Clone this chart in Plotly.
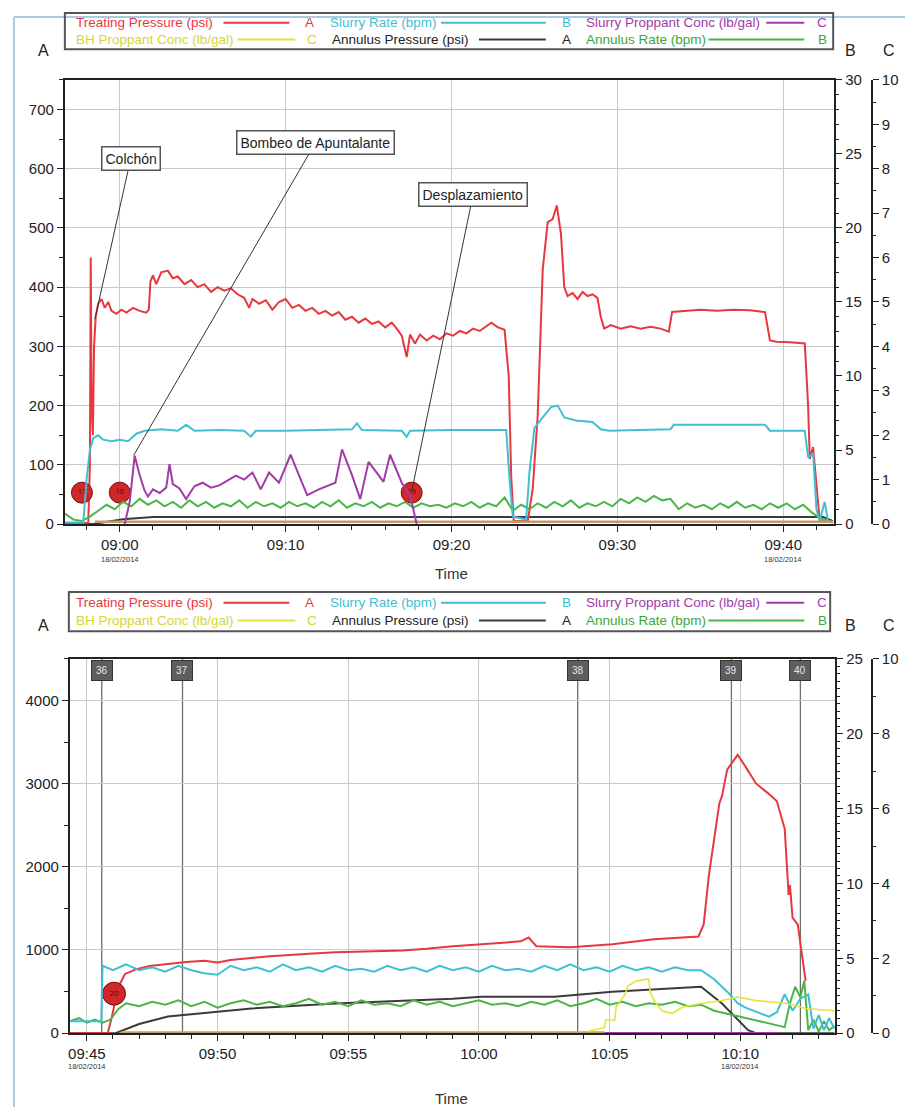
import numpy as np
import pandas as pd
import plotly.graph_objects as go

W, H = 905, 1115
def px(x): return x / W
def py(y): return 1 - y / H

T0_TOP = pd.Timestamp("2014-02-18 09:00:00")
T0_BOT = pd.Timestamp("2014-02-18 09:45:00")
def tt(base, mins):
    return [base + pd.Timedelta(minutes=float(m)) for m in mins]

# ---------------- TOP CHART DATA (minutes after 09:00) ----------------
top_red_t = [-3.3, -1.9, -1.8, -1.75, -1.7, -1.62, -1.55, -1.45, -1.3, -1.1, -0.9, -0.7, -0.5, -0.2, 0.1, 0.4, 0.8, 1.2,
             1.6, 1.75, 1.85, 2.0, 2.2, 2.5, 2.9, 3.2, 3.5, 3.9, 4.3, 4.7, 5.1, 5.5, 5.9, 6.3, 6.7, 7.1, 7.5, 7.8, 8.0,
             8.4, 8.8, 9.2, 9.6, 10.0, 10.4, 10.8, 11.2, 11.6, 12.0, 12.4, 12.8, 13.2, 13.6, 14.0, 14.4, 14.8, 15.2,
             15.6, 16.0, 16.4, 16.7, 17.0, 17.3, 17.5, 17.8, 18.1, 18.5, 18.9, 19.3, 19.7, 20.1, 20.5, 20.9, 21.3,
             21.7, 22.1, 22.4, 22.8, 23.2, 23.45, 23.6, 23.75, 24.6, 24.9, 25.2, 25.5, 25.8, 26.1, 26.35, 26.6, 26.8,
             27.0, 27.3, 27.6, 27.9, 28.2, 28.5, 28.8, 29.0, 29.2, 29.6, 30.2, 30.8, 31.4, 32.0, 32.6, 33.1, 33.3,
             34.0, 35.0, 36.0, 37.0, 38.0, 38.9, 39.2, 39.6, 40.4, 41.3, 41.5, 41.6, 41.8, 42.0, 42.2, 43.0]
top_red_v = [0, 2, 100, 450, 200, 150, 300, 350, 372, 380, 365, 375, 360, 355, 362, 357, 365, 360,
             357, 362, 410, 420, 405, 425, 428, 415, 418, 405, 412, 400, 405, 392, 400, 394, 398, 388, 382, 365, 380,
             372, 378, 362, 375, 380, 365, 370, 360, 365, 355, 360, 352, 358, 345, 350, 340, 347, 338,
             342, 332, 340, 330, 318, 282, 320, 305, 320, 310, 318, 312, 322, 318, 326, 322, 330,
             326, 334, 340, 332, 328, 250, 80, 5, 5, 60, 185, 430, 510, 515, 538, 490, 400,
             385, 390, 380, 392, 385, 388, 382, 350, 330, 336, 330, 334, 330, 333, 330, 325, 358,
             360, 362, 360, 362, 361, 358, 310, 308, 307, 305, 200, 110, 130, 60, 5, 3]

top_cyan_t = [-3.3, -2.2, -2.0, -1.8, -1.6, -1.3, -1.0, -0.5, 0, 0.5, 1.0, 1.5, 2.5, 3.5, 4.0, 4.5, 6, 7.5, 7.9, 8.2,
              10, 12, 14, 14.3, 14.6, 17, 17.3, 17.5, 20, 23.3, 23.5, 23.7, 24.5, 24.7, 25.0, 25.5, 26.0, 26.4, 26.8,
              27.5, 28.5, 29.0, 29.5, 33.2, 33.4, 38.9, 39.2, 41.3, 41.5, 41.8, 42.0, 42.2, 42.5, 42.7, 43.0]
top_cyan_v = [0.1, 0.1, 3.0, 5.0, 5.8, 6.0, 5.7, 5.6, 5.7, 5.6, 6.1, 6.3, 6.4, 6.3, 6.7, 6.3, 6.35, 6.3, 5.9, 6.3,
              6.3, 6.35, 6.4, 6.8, 6.35, 6.3, 5.9, 6.3, 6.35, 6.35, 3.0, 0.5, 0.3, 3.5, 6.5, 7.2, 7.9, 8.0, 7.2,
              7.0, 6.9, 6.4, 6.3, 6.4, 6.7, 6.7, 6.3, 6.3, 4.5, 4.8, 1.0, 0.2, 1.5, 0.2, 0.1]

top_purple_t = [0.3, 0.6, 0.9, 1.2, 1.5, 1.7, 2.0, 2.4, 2.8, 3.0, 3.2, 3.6, 4.0, 4.5, 5.0, 5.5, 6.0, 6.5, 7.0, 7.5,
                8.0, 8.5, 9.0, 9.6, 10.3, 10.8, 11.3, 12.0, 12.5, 13.0, 13.4, 14.0, 14.5, 15.0, 15.5, 15.9, 16.3,
                17.0, 17.5, 17.9]
top_purple_v = [0, 0.5, 1.54, 1.1, 0.75, 0.62, 0.78, 0.7, 0.82, 1.35, 0.9, 0.8, 0.56, 0.85, 0.93, 0.82, 0.87, 0.98,
                1.09, 1.0, 1.16, 0.78, 1.16, 0.93, 1.56, 1.1, 0.65, 0.78, 0.85, 0.93, 1.68, 1.1, 0.56, 1.4, 1.15,
                0.95, 1.56, 0.93, 0.65, 0.0]

top_green_start, top_green_step = -3.3, 0.5
top_green_v = [0.7, 0.3, 0.2, 0.5, 0.9, 1.3, 1.0, 1.5, 1.2, 1.7, 1.3, 1.6, 1.2, 1.5, 1.1, 1.6, 1.2, 1.5, 1.1, 1.4,
               1.2, 1.6, 1.1, 1.5, 1.2, 1.4, 1.1, 1.5, 1.2, 1.4, 1.1, 1.5, 1.2, 1.6, 1.1, 1.4, 1.2, 1.5, 1.1, 1.4,
               1.2, 1.5, 1.1, 1.4, 1.2, 1.3, 1.1, 1.4, 1.2, 1.5, 1.1, 1.4, 1.2, 1.8, 0.9, 1.3, 1.0, 1.4, 1.1, 1.5,
               1.2, 1.6, 1.1, 1.4, 1.2, 1.5, 1.2, 1.7, 1.4, 1.8, 1.5, 1.9, 1.6, 1.7, 1.0, 1.4, 1.1, 1.3, 1.0, 1.4,
               1.1, 1.5, 1.1, 1.3, 1.0, 1.4, 1.1, 1.4, 1.0, 1.3, 0.8, 0.4, 0.2]

top_black_t = [-3.3, -1.6, 0.2, 2.0, 42.4, 43.0]
top_black_v = [0, 0, 8, 12, 12, 5]
top_tan_t = [-1.5, 43.0]
top_tan_v = [0.05, 0.05]

top_marker_t = [-2.28, 0.0, 17.6]
top_marker_v = [53, 53, 53]
top_marker_lbl = ["17", "18", "19"]

# ---------------- BOTTOM CHART DATA (minutes after 09:45) ----------------
bot_red_t = [-0.65, 0.8, 0.96, 1.2, 1.46, 1.9, 2.4, 3.0, 3.8, 4.5, 5.0, 5.5, 7.0, 8.5, 9.5, 11, 12.1, 13, 14, 15.1,
             16.0, 16.6, 16.9, 17.2, 18.5, 20.1, 21.7, 23.4, 23.6, 23.8, 24.2, 24.3, 24.5, 24.9, 25.2, 25.6, 26.2,
             26.4, 26.7, 26.8, 26.85, 26.9, 27.0, 27.2, 27.5]
bot_red_v = [0, 0, 200, 550, 712, 770, 807, 830, 855, 870, 850, 880, 925, 955, 973, 985, 995, 1015, 1045, 1068,
             1090, 1104, 1150, 1045, 1033, 1068, 1128, 1163, 1306, 1899, 2766, 2849, 3169, 3347, 3205, 3003, 2849,
             2789, 2457, 1899, 1662, 1780, 1389, 1306, 629]

bot_cyan_t = [-0.65, 0.55, 0.6, 1.0, 1.5, 2.0, 2.5, 3.0, 3.5, 4.0, 4.5, 5.0, 5.5, 6.0, 6.5, 7.0, 7.5, 8.0, 8.5, 9.0,
              9.5, 10.0, 10.5, 11.0, 11.5, 12.0, 12.5, 13.0, 13.5, 14.0, 14.5, 15.0, 15.5, 16.0, 16.5, 17.0, 17.5,
              18.0, 18.5, 19.0, 19.5, 20.0, 20.5, 21.0, 21.5, 22.0, 22.5, 23.0, 23.5, 24.0, 24.3, 24.6, 24.9, 25.2,
              25.5, 25.8, 26.1, 26.4, 26.7, 27.0, 27.3, 27.6, 27.8, 28.0, 28.2, 28.4, 28.6]
bot_cyan_v = [0.8, 0.8, 4.5, 4.2, 4.6, 4.2, 4.4, 4.1, 4.5, 4.2, 4.0, 3.9, 4.5, 4.2, 4.4, 4.1, 4.6, 4.2, 4.4, 4.1,
              4.5, 4.2, 4.3, 4.1, 4.5, 4.2, 4.4, 4.1, 4.5, 4.2, 4.4, 4.1, 4.5, 4.2, 4.3, 4.1, 4.5,
              4.2, 4.6, 4.2, 4.4, 4.1, 4.5, 4.2, 4.4, 4.1, 4.4, 4.2, 4.2, 3.6, 3.1, 2.6, 2.0, 1.7,
              1.5, 1.3, 1.1, 1.4, 2.6, 1.5, 2.3, 2.6, 0.3, 1.2, 0.2, 1.0, 0.3]

bot_green_t = [-0.65, -0.3, 0.0, 0.3, 0.6, 0.9, 1.2, 1.5, 2.0, 2.5, 3.0, 3.5, 4.0, 4.5, 5.0, 5.5, 6.0, 6.5, 7.0, 7.5,
               8.0, 8.5, 9.0, 9.5, 10.0, 10.5, 11.0, 11.5, 12.0, 12.5, 13.0, 13.5, 14.0, 14.5, 15.0, 15.5, 16.0,
               16.5, 17.0, 17.5, 18.0, 18.5, 19.0, 19.5, 20.0, 20.5, 21.0, 21.5, 22.0, 22.5, 23.0, 23.5, 24.0, 24.5,
               25.0, 25.5, 26.0, 26.4, 26.7, 26.9, 27.1, 27.3, 27.45, 27.6, 27.8, 28.0, 28.2, 28.4, 28.6]
bot_green_v = [0.8, 1.0, 0.7, 0.9, 0.7, 0.9, 1.6, 2.0, 1.8, 2.1, 1.9, 2.2, 1.8, 2.1, 1.7, 2.0, 2.2, 1.9, 2.1, 1.8,
               2.0, 2.3, 1.9, 2.1, 1.8, 2.2, 1.9, 2.0, 1.8, 2.2, 1.9, 2.1, 1.8, 2.0, 2.2, 1.9, 2.0,
               1.8, 2.1, 1.9, 2.2, 1.8, 2.0, 2.3, 1.9, 2.1, 1.8, 2.0, 1.9, 2.1, 1.8, 1.9, 1.5, 1.3,
               1.1, 0.9, 0.7, 0.5, 0.4, 2.0, 3.1, 2.4, 3.5, 0.2, 0.9, 0.1, 0.8, 0.2, 0.5]

bot_black_t = [-0.65, 1.1, 2.0, 3.1, 5.1, 6.3, 9.5, 14, 15.1, 17.9, 20.1, 23.5, 24.3, 25.3, 25.6, 28.6]
bot_black_v = [0, 0, 110, 200, 260, 297, 356, 415, 439, 439, 498, 558, 356, 36, 0, 0]

bot_yellow_t = [19.2, 19.8, 19.85, 20.2, 20.25, 20.6, 20.7, 21.0, 21.5, 21.55, 21.7, 22.0, 22.4, 22.8, 23.5, 24.3,
                24.9, 25.6, 26.8, 27.5, 28.6]
bot_yellow_v = [0.05, 0.15, 0.35, 0.35, 0.7, 1.05, 1.26, 1.39, 1.45, 1.1, 0.87, 0.6, 0.53, 0.7, 0.79, 0.87,
                0.97, 0.87, 0.79, 0.66, 0.6]

bot_purple_t = [19.8, 26.5]
bot_purple_v = [0, 0]
bot_tan_t = [1.3, 19.8]
bot_tan_v = [0.02, 0.02]

bot_marker_t = [1.04]
bot_marker_v = [475]
bot_marker_lbl = ["20"]

event_t = [0.57, 3.66, 18.78, 24.66, 27.3]
event_lbl = ["36", "37", "38", "39", "40"]

top_ticks_min = [0, 10, 20, 30, 40]
top_ticks_lbl = ["09:00", "09:10", "09:20", "09:30", "09:40"]
bot_ticks_min = [0, 5, 10, 15, 20, 25]
bot_ticks_lbl = ["09:45", "09:50", "09:55", "10:00", "10:05", "10:10"]
date_lbl = "18/02/2014"

# ---------------- COLORS ----------------
RED = "#e8373e"
CYAN = "#3fc0d2"
PURPLE = "#a23aa8"
YELLOW = "#e4e43a"
BLACK = "#3a3a3a"
GREEN = "#4cb548"
TAN = "#c49a6c"
FONT = "Liberation Sans, Arial"
AXC = "#222222"

fig = go.Figure()

def line(x, y, color, xa, ya, width=2.0, name=""):
    fig.add_trace(go.Scatter(x=x, y=y, mode="lines", line=dict(color=color, width=width),
                             xaxis=xa, yaxis=ya, showlegend=False, name=name, hoverinfo="skip"))

# top traces
top_green_t = [top_green_start + i * top_green_step for i in range(len(top_green_v))]
line(tt(T0_TOP, top_tan_t), top_tan_v, TAN, "x", "y3", 2.5)
line(tt(T0_TOP, top_black_t), top_black_v, BLACK, "x", "y", 2)
line(tt(T0_TOP, top_green_t), top_green_v, GREEN, "x", "y2", 2)
line(tt(T0_TOP, top_purple_t), top_purple_v, PURPLE, "x", "y3", 2)
line(tt(T0_TOP, top_cyan_t), top_cyan_v, CYAN, "x", "y2", 2)
line(tt(T0_TOP, top_red_t), top_red_v, RED, "x", "y", 2)
fig.add_trace(go.Scatter(x=tt(T0_TOP, top_marker_t), y=top_marker_v, mode="markers+text",
                         text=top_marker_lbl, textposition="middle center",
                         textfont=dict(size=7, color="#5a0000"),
                         marker=dict(size=21, color="#d02828", line=dict(color="#7a0a0a", width=1)),
                         xaxis="x", yaxis="y", showlegend=False, hoverinfo="skip"))

# bottom traces
for t, lb in zip(event_t, event_lbl):
    fig.add_shape(type="line", xref="x2", yref="y4",
                  x0=T0_BOT + pd.Timedelta(minutes=t), x1=T0_BOT + pd.Timedelta(minutes=t),
                  y0=0, y1=4500, line=dict(color="#6e6e6e", width=1.3), layer="below")
line(tt(T0_BOT, bot_tan_t), bot_tan_v, TAN, "x2", "y6", 2.5)
line(tt(T0_BOT, bot_purple_t), bot_purple_v, PURPLE, "x2", "y6", 2.5)
line(tt(T0_BOT, bot_yellow_t), bot_yellow_v, YELLOW, "x2", "y6", 1.6)
line(tt(T0_BOT, bot_black_t), bot_black_v, BLACK, "x2", "y4", 2)
line(tt(T0_BOT, bot_green_t), bot_green_v, GREEN, "x2", "y5", 2)
line(tt(T0_BOT, bot_cyan_t), bot_cyan_v, CYAN, "x2", "y5", 2)
line(tt(T0_BOT, bot_red_t), bot_red_v, RED, "x2", "y4", 2)
fig.add_trace(go.Scatter(x=tt(T0_BOT, bot_marker_t), y=bot_marker_v, mode="markers+text",
                         text=bot_marker_lbl, textposition="middle center",
                         textfont=dict(size=8, color="#5a0000"),
                         marker=dict(size=23, color="#d02828", line=dict(color="#7a0a0a", width=1)),
                         xaxis="x2", yaxis="y4", showlegend=False, hoverinfo="skip"))

tickfont = dict(family=FONT, size=15, color="#222")

common_x = dict(type="date", showline=True, linecolor=AXC, linewidth=2, mirror=True,
                ticks="outside", ticklen=6, tickcolor=AXC, showgrid=True, gridcolor="#c9c9c9",
                gridwidth=1, tickfont=tickfont, zeroline=False)

fig.update_layout(
    width=W, height=H, autosize=False, paper_bgcolor="white", plot_bgcolor="white",
    margin=dict(l=0, r=0, t=0, b=0), showlegend=False,
    xaxis=dict(domain=[px(63), px(834)], anchor="y",
               range=[T0_TOP + pd.Timedelta(minutes=-3.31), T0_TOP + pd.Timedelta(minutes=43.07)],
               tickvals=tt(T0_TOP, top_ticks_min), ticktext=top_ticks_lbl,
               minor=dict(dtick=120000, ticks="outside", ticklen=4, tickcolor=AXC, showgrid=False),
               **common_x),
    yaxis=dict(domain=[py(523), py(72)], range=[0, 750], tick0=0, dtick=100, ticks="outside", ticklen=6,
               tickcolor=AXC, showline=True, linecolor=AXC, linewidth=2, mirror=True, showgrid=True,
               gridcolor="#c9c9c9", zeroline=False, tickfont=tickfont,
               minor=dict(dtick=50, ticks="outside", ticklen=4, tickcolor=AXC, showgrid=False)),
    yaxis2=dict(overlaying="y", anchor="x", side="right", range=[0, 30], dtick=5, ticks="outside", ticklen=6,
                tickcolor=AXC, showline=True, linecolor=AXC, linewidth=2, showgrid=False, zeroline=False,
                tickfont=tickfont,
                minor=dict(dtick=1, ticks="outside", ticklen=3, tickcolor=AXC, showgrid=False)),
    yaxis3=dict(overlaying="y", anchor="free", position=px(872), side="right", range=[0, 10], dtick=1,
                ticks="outside", ticklen=6, tickcolor=AXC, showline=True, linecolor=AXC, linewidth=1.5,
                showgrid=False, zeroline=False, tickfont=tickfont,
                minor=dict(dtick=0.5, ticks="outside", ticklen=3, tickcolor=AXC, showgrid=False)),
    xaxis2=dict(domain=[px(68), px(835)], anchor="y4",
                range=[T0_BOT + pd.Timedelta(minutes=-0.65), T0_BOT + pd.Timedelta(minutes=28.63)],
                tickvals=tt(T0_BOT, bot_ticks_min), ticktext=bot_ticks_lbl,
                minor=dict(dtick=60000, ticks="outside", ticklen=4, tickcolor=AXC, showgrid=False),
                **common_x),
    yaxis4=dict(domain=[py(1040), py(660)], anchor="x2", range=[0, 4500], tick0=0, dtick=1000, ticks="outside",
                ticklen=6, tickcolor=AXC, showline=True, linecolor=AXC, linewidth=2, mirror=True, showgrid=True,
                gridcolor="#c9c9c9", zeroline=False, tickfont=tickfont,
                minor=dict(dtick=500, ticks="outside", ticklen=4, tickcolor=AXC, showgrid=False)),
    yaxis5=dict(overlaying="y4", anchor="x2", side="right", range=[0, 25], dtick=5, ticks="outside", ticklen=6,
                tickcolor=AXC, showline=True, linecolor=AXC, linewidth=2, showgrid=False, zeroline=False,
                tickfont=tickfont,
                minor=dict(dtick=0.5, ticks="outside", ticklen=3, tickcolor=AXC, showgrid=False)),
    yaxis6=dict(overlaying="y4", anchor="free", position=px(872), side="right", range=[0, 10], dtick=2,
                ticks="outside", ticklen=6, tickcolor=AXC, showline=True, linecolor=AXC, linewidth=1.5,
                showgrid=False, zeroline=False, tickfont=tickfont,
                minor=dict(dtick=1, ticks="outside", ticklen=3, tickcolor=AXC, showgrid=False)),
)

ann = []
shapes = []

# frame of screenshot
shapes.append(dict(type="line", xref="paper", yref="paper", x0=px(12), x1=px(12), y0=py(8), y1=py(1115),
                   line=dict(color="#a9cbe2", width=2)))
shapes.append(dict(type="line", xref="paper", yref="paper", x0=px(12), x1=px(905), y0=py(8), y1=py(8),
                   line=dict(color="#a9cbe2", width=2)))

# legend boxes
legend_items = [
    # (text, color, text_x, line_x0, line_x1, letter, letter_x, row)
    ("Treating Pressure (psi)", RED, 72, 222, 288, "A", 308, 0),
    ("Slurry Rate (bpm)", CYAN, 327, 440, 545, "B", 566, 0),
    ("Slurry Proppant Conc (lb/gal)", PURPLE, 583, 766, 804, "C", 822, 0),
    ("BH Proppant Conc (lb/gal)", "#d6d62e", 72, 236, 294, "C", 311, 1),
    ("Annulus Pressure (psi)", "#222222", 329, 478, 545, "A", 566, 1),
    ("Annulus Rate (bpm)", "#3aa83a", 583, 708, 804, "B", 822, 1),
]
line_colors = [RED, CYAN, PURPLE, YELLOW, BLACK, GREEN]

def add_legend(box_x0, box_x1, box_y0, box_y1, row_y, ylab):
    shapes.append(dict(type="rect", xref="paper", yref="paper", x0=px(box_x0), x1=px(box_x1),
                       y0=py(box_y1), y1=py(box_y0), line=dict(color="#555", width=2)))
    for (txt, col, tx, lx0, lx1, let, letx, row), lc in zip(legend_items, line_colors):
        yy = row_y[row]
        ann.append(dict(xref="paper", yref="paper", x=px(tx), y=py(yy), text=txt, showarrow=False,
                        xanchor="left", yanchor="middle", font=dict(family=FONT, size=13.5, color=col)))
        shapes.append(dict(type="line", xref="paper", yref="paper", x0=px(lx0), x1=px(lx1), y0=py(yy),
                           y1=py(yy), line=dict(color=lc, width=2)))
        ann.append(dict(xref="paper", yref="paper", x=px(letx), y=py(yy), text=let, showarrow=False,
                        xanchor="center", yanchor="middle", font=dict(family=FONT, size=13.5, color=col)))
    for lab, x in (("A", 42), ("B", 850), ("C", 889)):
        ann.append(dict(xref="paper", yref="paper", x=px(x), y=py(ylab), text=lab, showarrow=False,
                        xanchor="center", yanchor="middle", font=dict(family=FONT, size=16, color="#222")))

add_legend(63, 833, 4, 41, (14, 31), 42)
add_legend(67, 830, 592, 632, (603, 621), 626)

# Time titles
for y in (573, 1106):
    ann.append(dict(xref="paper", yref="paper", x=px(450), y=py(y), text="Time", showarrow=False,
                    xanchor="center", yanchor="middle", font=dict(family=FONT, size=15, color="#333")))

def tstr(base, m):
    return str(base + pd.Timedelta(minutes=m))

# date labels under first / last ticks
for base, mins, ypix, xa in ((T0_TOP, top_ticks_min, 559, "x"), (T0_BOT, bot_ticks_min, 1074, "x2")):
    for m in (mins[0], mins[-1]):
        ann.append(dict(xref=xa, yref="paper", x=tstr(base, m), y=py(ypix), text=date_lbl, showarrow=False,
                        xanchor="center", yanchor="middle", font=dict(family=FONT, size=7.5, color="#333")))

# callouts on top chart
callouts = [("Colchón", -1.5, 346, 0.66, 617),
            ("Bombeo de Apuntalante", 0.84, 116, 11.8, 644),
            ("Desplazamiento", 17.6, 55, 21.3, 556)]
for txt, x, y, axx, ayy in callouts:
    ann.append(dict(xref="x", yref="y", x=tstr(T0_TOP, x), y=y, axref="x", ayref="y",
                    ax=tstr(T0_TOP, axx), ay=ayy, text=txt, showarrow=True, arrowhead=0, arrowwidth=1,
                    arrowcolor="#333", bgcolor="white", bordercolor="#555", borderwidth=1.5, borderpad=3,
                    font=dict(family=FONT, size=14, color="#222")))

# event labels on bottom chart
for t, lb in zip(event_t, event_lbl):
    ann.append(dict(xref="x2", yref="paper", x=tstr(T0_BOT, t), y=py(672), text=lb, showarrow=False,
                    xanchor="center", yanchor="middle", bgcolor="#5e5e5e", bordercolor="#333",
                    borderwidth=1, borderpad=4, font=dict(family=FONT, size=10, color="#e6e6e6")))

fig.update_layout(annotations=ann, shapes=list(fig.layout.shapes) + shapes)

fig.write_html("out.html")
